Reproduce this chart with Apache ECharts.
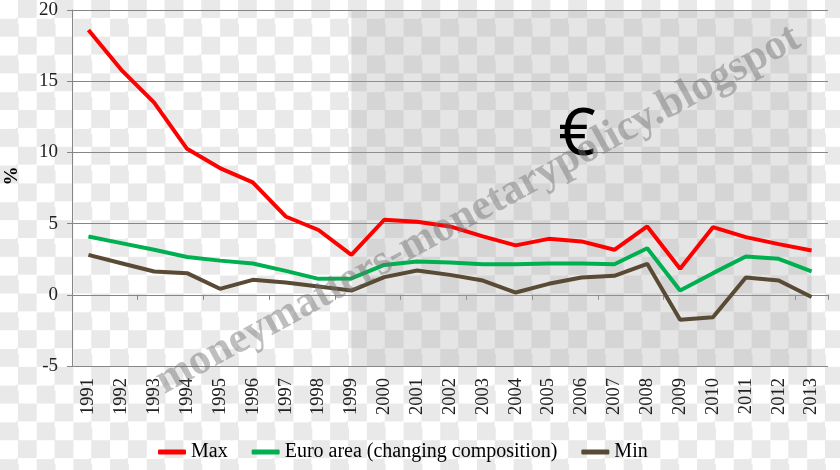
<!DOCTYPE html>
<html><head><meta charset="utf-8">
<script src="https://cdn.jsdelivr.net/npm/echarts@6/dist/echarts.min.js"></script>
<style>
html,body{margin:0;padding:0;}
#c{width:840px;height:470px;background-color:#fff;
background-image:repeating-conic-gradient(#e9e9e9 0 25%, #ffffff 0 50%);
background-size:36.7px 36.7px;background-position:0 0;}
</style></head>
<body><div id="c"></div>
<script>
const years = ['1991','1992','1993','1994','1995','1996','1997','1998','1999','2000','2001','2002','2003','2004','2005','2006','2007','2008','2009','2010','2011','2012','2013'];
const maxVals = [18.6,15.8,13.5,10.25,8.9,7.9,5.5,4.55,2.8,5.27,5.13,4.8,4.1,3.47,3.93,3.75,3.16,4.8,1.83,4.75,4.05,3.56,3.11];
const euroVals = [4.1,3.63,3.16,2.65,2.4,2.2,1.68,1.12,1.15,2.1,2.34,2.27,2.15,2.15,2.2,2.2,2.15,3.27,0.3,1.52,2.69,2.53,1.64];
const minVals = [2.8,2.22,1.64,1.52,0.42,1.05,0.87,0.59,0.3,1.24,1.71,1.4,1.0,0.16,0.77,1.22,1.33,2.18,-1.76,-1.57,1.22,1.0,-0.16];
const yTicks = {min:-5, max:20, interval:5};
const euroStart = '1999', euroEnd = '2013';

const serif = 'Liberation Serif';
const chart = echarts.init(document.getElementById('c'), null, {renderer:'canvas'});
chart.setOption({
  animation:false,
  grid:{left:72,right:12,top:10,bottom:104,containLabel:false,outerBoundsMode:'none'},
  legend:{
    bottom:3,left:153,itemWidth:28,itemHeight:5,itemGap:24,icon:'roundRect',
    textStyle:{fontFamily:serif,fontSize:20,color:'#000'},
    data:['Max','Euro area (changing composition)','Min']
  },
  xAxis:[
    {type:'category',data:years,position:'top',boundaryGap:true,
     axisLine:{onZero:true,lineStyle:{color:'#868686',width:1}},
     axisTick:{show:true,inside:true,length:5,lineStyle:{color:'#868686'}},
     axisLabel:{show:false},splitLine:{show:false}},
    {type:'category',data:years,position:'bottom',boundaryGap:true,
     axisLine:{show:false,onZero:false},axisTick:{show:false},
     axisLabel:{show:true,rotate:90,margin:12,fontFamily:serif,fontSize:18.5,color:'#222'},
     splitLine:{show:false}}
  ],
  yAxis:{type:'value',min:yTicks.min,max:yTicks.max,interval:yTicks.interval,
    name:'%',nameLocation:'middle',nameGap:50,nameRotate:90,
    nameTextStyle:{fontFamily:serif,fontSize:19,fontWeight:'bold',color:'#000',padding:[0,0,0,24]},
    axisLine:{show:true,lineStyle:{color:'#868686'}},
    axisTick:{show:true,length:5,lineStyle:{color:'#868686'}},
    axisLabel:{margin:14,fontFamily:serif,fontSize:19,color:'#222'},
    splitLine:{lineStyle:{color:'#868686',width:1}}
  },
  series:[
    {name:'Max',type:'line',data:maxVals,symbol:'none',lineStyle:{color:'#ff0000',width:4},itemStyle:{color:'#ff0000'},z:5,
     markArea:{silent:true,itemStyle:{color:'rgba(170,170,170,0.3)'},data:[[{xAxis:euroStart},{xAxis:euroEnd}]]}},
    {name:'Euro area (changing composition)',type:'line',data:euroVals,symbol:'none',lineStyle:{color:'#00b050',width:4},itemStyle:{color:'#00b050'},z:5},
    {name:'Min',type:'line',data:minVals,symbol:'none',lineStyle:{color:'#594a35',width:4},itemStyle:{color:'#594a35'},z:5}
  ],
  graphic:[
    {type:'text',x:577,y:136,z:10,style:{text:'€',fontFamily:'Noto Sans',fontSize:65,fill:'#000',align:'center',verticalAlign:'middle'}},
    {type:'text',x:478,y:210,rotation:0.5,z:20,style:{text:'moneymatters-monetarypolicy.blogspot',fontFamily:serif,fontWeight:'bold',fontSize:43,fill:'rgba(110,110,110,0.45)',align:'center',verticalAlign:'middle'}}
  ]
});
</script></body></html>
